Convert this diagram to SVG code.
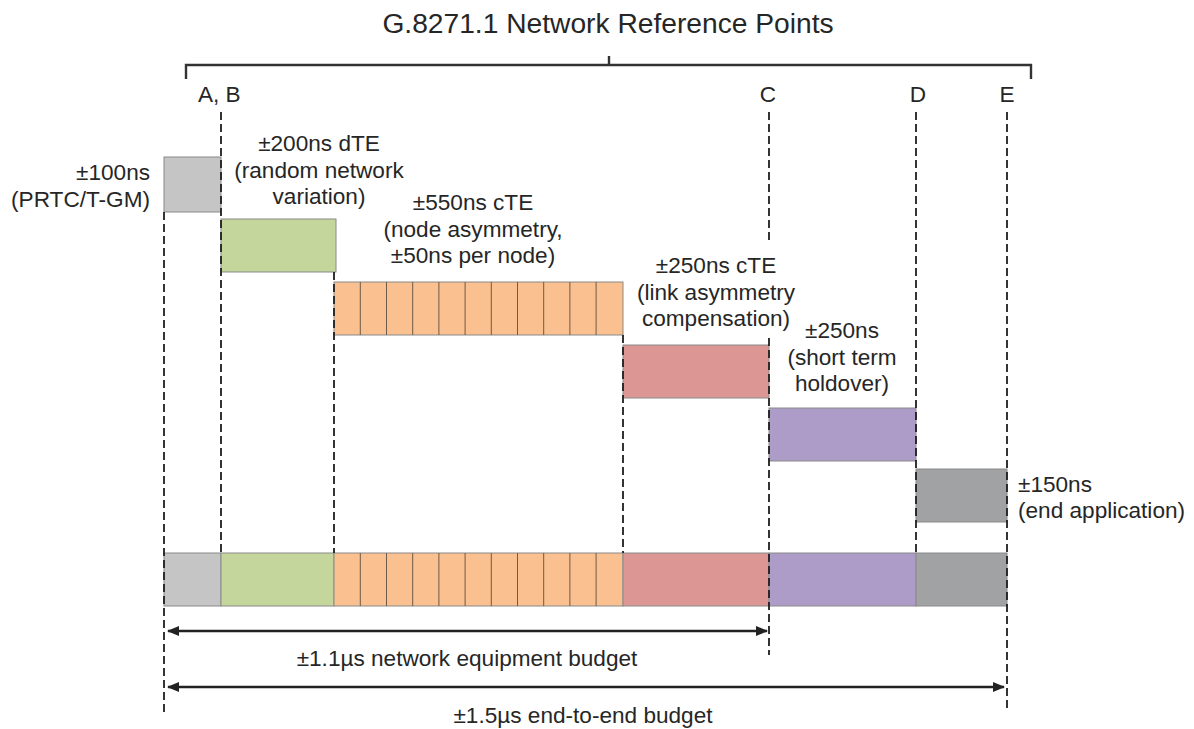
<svg xmlns="http://www.w3.org/2000/svg" width="1194" height="729" viewBox="0 0 1194 729">
<defs>
<style>
text{font-family:"Liberation Sans",Arial,sans-serif;fill:#262626;font-size:22.6px}
.title{font-size:28.2px}
.mid{text-anchor:middle}
.end{text-anchor:end}
.dash{stroke:#1e1e1e;stroke-width:1.8;stroke-dasharray:8 4;fill:none}
.br{stroke:#333;stroke-width:2.4;fill:none}
.box{stroke:#8a8a8a;stroke-width:1}
.cell{stroke:#6e5a48;stroke-width:1}
.g1{fill:#c5c5c5}
.g2{fill:#c4d69b}
.or{fill:#fac08f}
.rd{fill:#dc9794}
.pu{fill:#ad9cc8}
.g3{fill:#a1a2a4}
.arr{stroke:#222;stroke-width:2.4;fill:none;marker-start:url(#ah);marker-end:url(#ah)}
</style>
<marker id="ah" viewBox="0 0 12 10" refX="11" refY="5" markerWidth="12" markerHeight="10" markerUnits="userSpaceOnUse" orient="auto-start-reverse">
<path d="M0,0 L12,5 L0,10 Z" fill="#222"/>
</marker>
</defs>

<g id="title">
<text class="title mid" x="608" y="33">G.8271.1 Network Reference Points</text>
<path class="br" d="M186,79 V65 H1031 V79 M609,65 V56"/>
</g>

<g id="ref-labels">
<text x="198" y="102">A, B</text>
<text class="mid" x="768" y="102">C</text>
<text class="mid" x="918" y="102">D</text>
<text class="mid" x="1007" y="102">E</text>
</g>

<g id="node-prtc">
<rect class="box g1" x="164" y="157" width="57" height="55"/>
<text class="end" x="150" y="180">±100ns</text>
<text class="end" x="150" y="207">(PRTC/T-GM)</text>
</g>

<g id="node-dte">
<rect class="box g2" x="221" y="219" width="115" height="53"/>
<text class="mid" x="319" y="151">±200ns dTE</text>
<text class="mid" x="319" y="178">(random network</text>
<text class="mid" x="319" y="204">variation)</text>
</g>

<g id="node-cte-node">
<rect class="box or" x="334" y="282" width="289" height="53"/>
<path class="cell" d="M360.3,282V335M386.5,282V335M412.7,282V335M438.9,282V335M465.1,282V335M491.3,282V335M517.5,282V335M543.7,282V335M569.9,282V335M596.1,282V335"/>
<text class="mid" x="473" y="210">±550ns cTE</text>
<text class="mid" x="473" y="237">(node asymmetry,</text>
<text class="mid" x="473" y="263">±50ns per node)</text>
</g>

<g id="node-cte-link">
<rect class="box rd" x="623" y="345" width="146" height="53"/>
<text class="mid" x="716" y="273">±250ns cTE</text>
<text class="mid" x="716" y="300">(link asymmetry</text>
<text class="mid" x="716" y="326">compensation)</text>
</g>

<g id="node-holdover">
<rect class="box pu" x="769" y="408" width="147" height="53"/>
<text class="mid" x="842" y="338">±250ns</text>
<text class="mid" x="842" y="365">(short term</text>
<text class="mid" x="842" y="391">holdover)</text>
</g>

<g id="node-end">
<rect class="box g3" x="916" y="469" width="91" height="53"/>
<text x="1018" y="492">±150ns</text>
<text x="1018" y="518">(end application)</text>
</g>

<g id="bar">
<rect class="box g1" x="164" y="553" width="57" height="53"/>
<rect class="box g2" x="221" y="553" width="113" height="53"/>
<rect class="box or" x="334" y="553" width="289" height="53"/>
<path class="cell" d="M360.3,553V606M386.5,553V606M412.7,553V606M438.9,553V606M465.1,553V606M491.3,553V606M517.5,553V606M543.7,553V606M569.9,553V606M596.1,553V606"/>
<rect class="box rd" x="623" y="553" width="146" height="53"/>
<rect class="box pu" x="769" y="553" width="147" height="53"/>
<rect class="box g3" x="916" y="553" width="91" height="53"/>
</g>

<g id="connectors">
<line class="dash" x1="164" y1="212" x2="164" y2="712"/>
<line class="dash" x1="221" y1="112" x2="221" y2="553"/>
<line class="dash" x1="334" y1="272" x2="334" y2="553"/>
<line class="dash" x1="623" y1="335" x2="623" y2="553"/>
<line class="dash" x1="769" y1="112" x2="769" y2="240"/>
<line class="dash" x1="769" y1="338" x2="769" y2="655"/>
<line class="dash" x1="916" y1="112" x2="916" y2="553"/>
<line class="dash" x1="1007" y1="112" x2="1007" y2="712"/>
<line class="arr" x1="168" y1="631" x2="767" y2="631"/>
<line class="arr" x1="168" y1="687" x2="1004" y2="687"/>
</g>

<g id="budget-labels">
<text class="mid" x="467" y="666">±1.1µs network equipment budget</text>
<text class="mid" x="583" y="723">±1.5µs end-to-end budget</text>
</g>
</svg>
